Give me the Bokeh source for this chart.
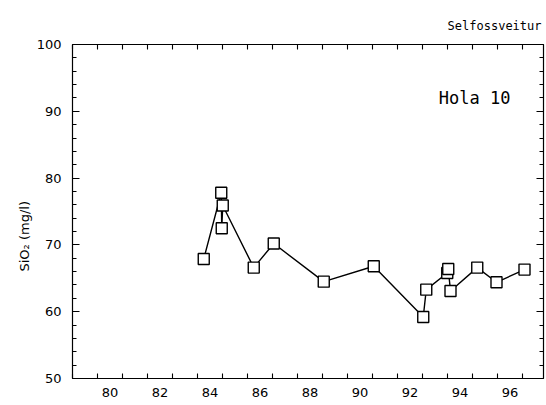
from bokeh.embed import file_html
from bokeh.models import ColumnDataSource, FixedTicker, Label, LinearAxis, Range1d
from bokeh.plotting import figure
from bokeh.resources import INLINE

# Sampling dates (decimal year, 19xx) and silica concentration in mg/l
sample_year = [84.25, 84.95, 84.97, 85.01, 86.25, 87.05, 89.05, 91.05,
               93.03, 93.15, 93.99, 94.03, 94.12, 95.19, 95.96, 97.08]
sio2 = [67.9, 77.8, 72.5, 75.9, 66.6, 70.2, 64.5, 66.8,
        59.2, 63.3, 65.8, 66.4, 63.1, 66.6, 64.4, 66.3]

# Axis layout: tick marks at year boundaries, labels centred on the year
year_ticks = list(range(79, 98))
year_labels = [80, 82, 84, 86, 88, 90, 92, 94, 96]
y_major = [50, 60, 70, 80, 90, 100]
y_minor = [v for v in range(52, 100, 2) if v % 10]

TICK_FONT = "DejaVu Sans"
TEXT_FONT = "DejaVu Sans Mono"
NBSP = "\u00a0"

src = ColumnDataSource(dict(year=sample_year, sio2=sio2))

p = figure(width=546, height=405, output_backend="svg", toolbar_location=None,
           x_range=Range1d(79.0, 97.84), y_range=Range1d(50, 100),
           x_axis_type=None, y_axis_type=None,
           min_border_left=72, min_border_right=3,
           min_border_top=44, min_border_bottom=27)
p.xgrid.visible = False
p.ygrid.visible = False
p.outline_line_color = "black"
p.outline_line_width = 1.2
p.background_fill_color = "white"
p.border_fill_color = "white"

# title at the top right
p.title.text = "Selfossveitur"
p.title.align = "right"
p.title.text_font = TEXT_FONT
p.title.text_font_size = "12px"
p.title.text_font_style = "normal"
p.title.text_color = "black"
p.title.standoff = 24
p.title.offset = 2


def style_axis(ax):
    ax.axis_line_color = None
    ax.major_tick_line_color = "black"
    ax.minor_tick_line_color = "black"
    ax.major_tick_line_width = 1.1
    ax.minor_tick_line_width = 1.1
    ax.major_tick_out = 0
    ax.minor_tick_out = 0
    ax.major_label_text_font = TICK_FONT
    ax.major_label_text_font_size = "13px"
    ax.major_label_text_color = "black"


# bottom: labels at mid-year (hidden major ticks), year marks as minor ticks
label_pos = [y + 0.5 for y in year_labels]
xb = LinearAxis(ticker=FixedTicker(ticks=label_pos, minor_ticks=year_ticks))
style_axis(xb)
xb.major_tick_line_color = None
xb.minor_tick_in = 5
xb.major_label_standoff = 9
xb.major_label_overrides = {pos: str(y) for pos, y in zip(label_pos, year_labels)}
p.add_layout(xb, "below")

# top: year marks only
xt = LinearAxis(ticker=FixedTicker(ticks=year_ticks, minor_ticks=[]))
style_axis(xt)
xt.major_tick_in = 5
xt.major_label_overrides = {y: "" for y in year_ticks}
xt.major_label_text_font_size = "0px"
xt.major_label_standoff = 0
p.add_layout(xt, "above")

# left: concentration scale; trailing padding moves the label below centre
yl = LinearAxis(ticker=FixedTicker(ticks=y_major, minor_ticks=y_minor))
style_axis(yl)
yl.major_tick_in = 7
yl.minor_tick_in = 4
yl.major_label_standoff = 11
yl.axis_label = "SiO₂ (mg/l)" + NBSP * 12
yl.axis_label_standoff = 2
yl.axis_label_text_font = TICK_FONT
yl.axis_label_text_font_size = "13px"
yl.axis_label_text_font_style = "normal"
yl.axis_label_text_color = "black"
p.add_layout(yl, "left")

# right: mirrored tick marks
yr = LinearAxis(ticker=FixedTicker(ticks=y_major, minor_ticks=y_minor))
style_axis(yr)
yr.major_tick_in = 7
yr.minor_tick_in = 4
yr.major_label_overrides = {v: "" for v in y_major}
yr.major_label_text_font_size = "0px"
yr.major_label_standoff = 0
p.add_layout(yr, "right")

# data
p.line("year", "sio2", source=src, line_color="black", line_width=1.4)
p.scatter("year", "sio2", source=src, marker="square", size=11,
          fill_color="white", line_color="black", line_width=1.4)

# well name (screen offsets from the frame's lower-left corner)
p.add_layout(Label(x=438, y=281, x_units="screen", y_units="screen",
                   text="Hola 10", text_align="right", text_baseline="middle",
                   text_font=TEXT_FONT, text_font_size="17px",
                   text_color="black"))

open("out.html", "w").write(file_html(p, INLINE))
